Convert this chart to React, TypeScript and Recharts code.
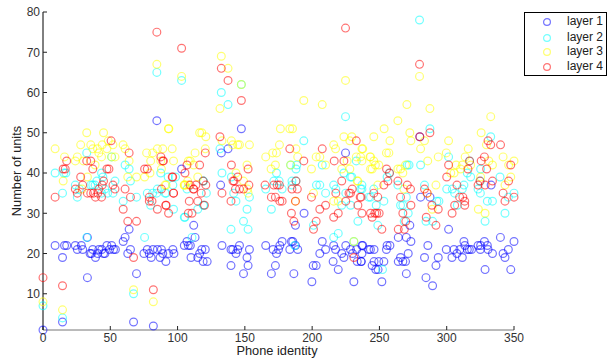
import React from 'react';
import { ScatterChart, Scatter, XAxis, YAxis, Legend, Label } from 'recharts';

type Pt = [number, number];

const xTicks = [0, 50, 100, 150, 200, 250, 300, 350];
const yTicks = [10, 20, 30, 40, 50, 60, 70, 80];
const layerNames = ['layer 1', 'layer 2', 'layer 3', 'layer 4'];
const layerColors = ['#0000ff', '#00ffff', '#ffff00', '#ff0000'];

const layer1: Pt[] = [
  [0,1],[14.5,3],[67.3,3],[82,2],[33,14],[69.5,15],[33,24],[64,26],[61,24],[59.6,23],[9,22],[16,22],[17.6,22],[24,22],[28.5,22],
  [25.5,21],[29.5,21],[37,21],[41.5,21],[43.7,21],[47.5,22],[51,22],[49.5,21],[52.4,21],[53.8,21],[65,21],[77.5,21],[81.7,21],[85,21],[88,21],
  [96.5,21],[35,20],[36,20],[40.7,20],[45,20],[46,20],[63,20],[75,20],[79,20],[89,20],[93.3,20],[97.3,20],[14.5,19],[39,19],[80.4,19],
  [87,19],[91.3,18],[105,22],[107,23],[108,22],[109.5,22],[84.6,53],[103,41],[132,37],[194,30],[187.6,27],[112,27],[113,24],[133,22],[146,22],
  [165.5,22],[177.7,23],[184.6,23],[185.6,23],[187.6,22],[176,22],[207.5,23],[216,22],[225,22],[237,22],[118,21],[120.6,21],[139.7,21],[141,21],[144.7,21],
  [153.4,21],[171,21],[175,21],[183.4,21],[189.3,21],[210,21],[217.4,21],[228.5,21],[233,21],[242,21],[116.4,20],[143.4,20],[173.5,20],[205.7,20],[222,20],
  [230,20],[237,20],[110,19],[115,19],[151.6,19],[223.6,19],[119,18],[122,18],[215.6,18],[233.5,18],[236.5,18],[139.7,17],[152.4,17],[172.7,17],[200.8,17],
  [203,17],[219.4,16],[149,15],[169.7,15],[186.4,15],[199.8,13],[231,13],[147.4,51],[137.5,46],[132.5,45],[224.8,45],[280,49],[301.4,26],[237.6,22],[257.8,22],
  [255.7,22],[264,24],[270,24],[273.4,23],[286,22],[339.9,24],[350,23],[312.8,23],[328,23],[313.5,22],[323.3,22],[325.2,22],[330.2,22],[243.3,21],[246,21],
  [255.2,21],[299.7,21],[305.4,21],[309.8,21],[315.3,21],[316.8,21],[318.5,21],[325,21],[330.7,21],[345.8,21],[271.4,20],[307.6,20],[334,20],[341.9,20],[283.5,19],
  [293.7,19],[265.7,19],[303.9,19],[311.6,19],[343.3,19],[236.4,18],[246,18],[249.5,18],[253.3,18],[264,18],[267.4,18],[269.4,18],[244.6,17],[292,17],[247.3,16],
  [249,16],[328.5,16],[347.6,16],[270,15],[284.6,14],[251.8,13],[289.5,12],[280.6,34],[287.6,34],[333,37],[272.6,27],
];

const layer2: Pt[] = [
  [84.6,65],[103,63],[32.5,45],[51,44],[61,42],[64,41],[9,40],[17,40],[15.5,40],[43.5,40],[87.5,40],[44.5,39],[93,39],[98.5,39],[40,38],
  [53.5,38],[65,38],[0,7],[14.5,4],[67.3,10],[75.5,24],[32.5,24],[105.5,29],[97,31],[59.6,33],[69.5,34],[14.5,35],[25.5,34],[52,35],[48,35],
  [43.5,35],[77.5,35],[81.5,35],[80,32],[91.5,35],[85,36],[24,37],[35.5,37],[37,37],[27,36],[46,36],[96.5,37],[107,36],[110.7,24],[115,31],
  [119.4,32],[121.4,35],[151.6,31],[149,28],[139.7,26],[152.4,26],[169.7,31],[141.7,35],[143.4,33],[153.4,34],[187,22],[165.5,36],[177.7,36],[185,37],[188,38],
  [203.2,37],[205.7,37],[201,27],[210,35],[216,37],[217.6,36],[222,32],[228.6,32],[225,35],[216,24],[219.4,25],[234,28],[237,37],[236,36],[242,34],
  [132.5,60],[137.5,57],[224.8,54],[193.8,48],[131.5,46],[184,42],[188.6,42],[188,41],[207.5,42],[232.8,43],[173.5,40],[133,40],[223.6,40],[228.5,39],[229.5,39],
  [140,39],[119,38],[171.5,38],[175.5,38],[185,38],[147.4,62],[231,23],[279.8,78],[287.5,51],[332.7,49],[301.4,44],[280.6,42],[272,42],[270.6,42],[317,43],
  [325.2,41],[315.3,40],[257.5,40],[255.7,39],[317.8,39],[339.6,39],[325,38],[248.8,27],[252.3,16],[237,36],[245.8,36],[243.4,34],[247.6,32],[253.3,33],[265.7,32],
  [267.4,32],[270,34],[271.4,30],[268.4,28],[284.6,28],[289.5,28],[263.7,37],[283.5,37],[300,36],[304.2,36],[305.9,35],[311.6,36],[312.8,37],[323.3,36],[325,35],
  [330.2,33],[334,33],[343.3,30],[328.5,28],[350,35],[345.8,34],[292.7,33],[294.2,33],[307.9,32],[38.7,37],[90.7,35],[84.5,35],[119.3,38],[119.3,32],[105,29],
];

const layer3: Pt[] = [
  [84.6,67],[103,64],[93.5,51],[32.5,50],[45,50],[9,46],[28,47],[35.5,47],[44,47],[52,47],[59.5,47],[37,46],[40.5,46],[47.5,46],[61,46],
  [85,46],[89,46],[96,46],[41.5,45],[77,45],[81.5,45],[16,44],[25.5,44],[43.5,44],[53.5,44],[51,44],[24,43],[30,43],[64,43],[80,43],
  [87.5,43],[97,43],[108,43],[38.7,42],[48.5,48],[88,41],[79.5,40],[33,39],[63,39],[69.5,39],[75.5,39],[15,38],[0,8],[14.5,6],[67.3,11],
  [82,8],[91.5,37],[105.7,37],[29,36],[105,37],[108,37],[149,38],[152,36],[152.4,35],[201,35],[187.6,33],[216,33],[219.4,33],[231,23],[234,38],
  [132.5,69],[137.5,66],[147.4,62],[224.8,63],[193.8,58],[207.5,57],[131.5,56],[176.4,51],[183.4,51],[185.4,51],[116.4,50],[118,50],[121,49],[223.6,49],[229.5,49],
  [133,48],[140,48],[228,48],[175.7,47],[141,47],[144.7,47],[146,47],[153.4,47],[216,47],[217.4,46],[120.6,46],[188,46],[237,46],[113,45],[170.7,45],
  [173.5,45],[165.5,44],[189.3,44],[203,44],[205.7,44],[232.8,44],[236,44],[243,44],[109.4,43],[237,43],[226,43],[112,42],[151.6,42],[172.7,42],[210,42],
  [184,42],[169.5,41],[199.5,41],[222,41],[228,41],[243.4,41],[115,39],[143.4,40],[107.5,38],[233.5,38],[279.8,64],[270.4,57],[287.5,56],[263.7,53],[332.7,54],
  [253.5,51],[325.6,50],[245.8,49],[272.6,50],[257.8,48],[273.4,48],[283.5,48],[301.4,48],[316,46],[329.5,47],[280.6,46],[237.6,46],[255.2,45],[257,45],[299.7,45],
  [313.7,44],[243.4,44],[293.7,44],[341.9,44],[245.8,43],[285.9,43],[350,43],[331.3,43],[247,42],[249.5,42],[269.4,42],[307,42],[311.6,42],[334,42],[346,42],
  [244.6,41],[263.7,41],[265.7,41],[310.3,41],[267.4,40],[303,40],[305.5,40],[347.6,39],[325.2,39],[317.8,42],[248.8,37],[268.2,36],[285.5,35],[292,37],[289.2,31],
  [323.5,31],[328.5,30],[343.3,37],[104.9,37],[90.7,37],[93.2,51],
];

const layer4: Pt[] = [
  [84.6,75],[103,71],[50.6,48],[64,45],[87.6,44],[89,43],[17.6,43],[32.5,43],[35.5,43],[15,41],[16.5,41],[37,41],[47.5,41],[49,41],[75.5,41],
  [77.5,41],[107,42],[105.5,40],[28,39],[96,39],[45,38],[0,14],[14.5,12],[82,11],[67.3,19],[63,28],[69.5,28],[59.6,31],[85,31],[91.5,32],
  [93.3,30],[108,30],[108.7,33],[81,33],[79,33],[79,34],[65,34],[9,34],[25.5,35],[33,35],[35.5,35],[37.5,35],[39,34],[40.7,35],[43.5,34],
  [53.5,36],[61,36],[24,36],[29.5,37],[41.5,36],[44,37],[52,37],[88,36],[97,35],[231,19],[115,33],[120,32],[110.7,30],[133,35],[117.6,35],
  [121,37],[112,36],[143,36],[146,36],[149,36],[153,37],[142,38],[165,37],[171.5,37],[174,37],[175.7,37],[185,36],[189,36],[169.7,34],[172.7,34],
  [176,33],[177.7,33],[187.6,33],[139.7,33],[199.5,34],[205.7,31],[210,32],[184.6,30],[186.4,28],[203,28],[201,26],[216,29],[219.4,30],[225,33],[227.4,35],
  [228.5,35],[217.6,35],[235.7,34],[234,32],[237,30],[229.8,36],[222,38],[224.8,76],[132.5,66],[137.5,63],[147.4,58],[131.5,49],[183.4,46],[207.5,46],[232.8,48],
  [120.6,45],[193.8,43],[216.4,43],[223.6,43],[140,42],[116.4,42],[152.4,41],[188,38],[144.7,39],[119,38],[141.2,38],[279.8,67],[287.5,50],[280,49],[330.7,48],
  [332.7,47],[340,47],[328,44],[317,43],[301.4,42],[325.6,43],[347.6,42],[329.7,41],[315.8,41],[255.3,41],[257.5,40],[300,39],[324.7,38],[334,38],[346,38],
  [256.3,38],[263.7,38],[251.8,26],[264,26],[268.5,26],[269.6,28],[292,27],[284.8,29],[304,30],[244.6,29],[243.4,30],[246.6,30],[248,30],[249.8,30],[267.4,30],
  [293.7,31],[289,32],[273.4,32],[305.9,32],[313.4,32],[313.4,33],[309.6,34],[312,34],[265.7,34],[248.8,34],[245.8,35],[283.5,36],[285.5,35],[236.4,34],[253.3,37],
  [270.7,37],[273.1,36],[307.6,37],[323.3,37],[328.5,37],[341.9,35],[343.3,33],[350,34],[96.4,39],[97,35],[91.2,32],[113.6,37],[111.8,36],[109.3,37],[89.5,43],
];

const layers = [layer1, layer2, layer3, layer4];

const toRows = (pts: Pt[]) => pts.map(([x, y]) => ({ x, y }));

const Ring = (color: string) => (props: any) => (
  <circle cx={props.cx} cy={props.cy} r={3.9} fill="none" stroke={color} strokeWidth={1.2} strokeOpacity={0.55} />
);

const LegendBox = () => (
  <div style={{ width: 81, height: 62, border: '1px solid #000', boxSizing: 'content-box', background: '#fff', position: 'relative' }}>
    {layerNames.map((name, i) => (
      <div key={name} style={{ position: 'absolute', left: 0, top: [1, 17, 31, 46][i], height: 15, width: 81, fontSize: 12, lineHeight: '15px', color: '#222' }}>
        <svg width={30} height={15} style={{ position: 'absolute', left: 10, top: 0 }}>
          <circle cx={12} cy={8} r={3.4} fill="none" stroke={layerColors[i]} strokeWidth={1.2} strokeOpacity={0.55} />
        </svg>
        <span style={{ position: 'absolute', left: 42, top: 0, whiteSpace: 'nowrap' }}>{name}</span>
      </div>
    ))}
  </div>
);

export default function App() {
  const tickStyle = { fontSize: 12, fill: '#333', fontFamily: 'Liberation Sans' };
  const labelStyle = { fontSize: 12.8, fill: '#222', fontFamily: 'Liberation Sans' };
  return (
    <div style={{ position: 'absolute', left: 0, top: 0, width: 612, height: 364, background: '#fff', fontFamily: 'Liberation Sans' }}>
      <ScatterChart width={612} height={364} margin={{ top: 12, right: 15, bottom: 0, left: 0 }}>
        <XAxis
          type="number"
          dataKey="x"
          domain={[0, 350]}
          ticks={xTicks}
          height={34}
          interval={0}
          tickSize={-4}
          tickMargin={7}
          tick={tickStyle}
          axisLine={{ stroke: '#777' }}
          tickLine={{ stroke: '#222' }}
        >
          <Label value="Phone identity" position="insideBottom" offset={9} dx={-1.5} style={labelStyle} />
        </XAxis>
        <YAxis
          type="number"
          dataKey="y"
          domain={[1, 80]}
          ticks={yTicks}
          width={43}
          interval={0}
          tickSize={-4}
          tickMargin={7}
          tick={tickStyle}
          axisLine={{ stroke: '#000' }}
          tickLine={{ stroke: '#222' }}
        >
          <Label value="Number of units" angle={-90} position="insideLeft" offset={16} style={{ ...labelStyle, textAnchor: 'middle' }} />
        </YAxis>
        {layers.map((pts, i) => (
          <Scatter key={layerNames[i]} name={layerNames[i]} data={toRows(pts)} shape={Ring(layerColors[i])} isAnimationActive={false} />
        ))}
        <Legend content={<LegendBox />} layout="vertical" align="right" verticalAlign="top" wrapperStyle={{ position: 'absolute', right: 5, top: 12, width: 83 }} />
      </ScatterChart>
    </div>
  );
}
